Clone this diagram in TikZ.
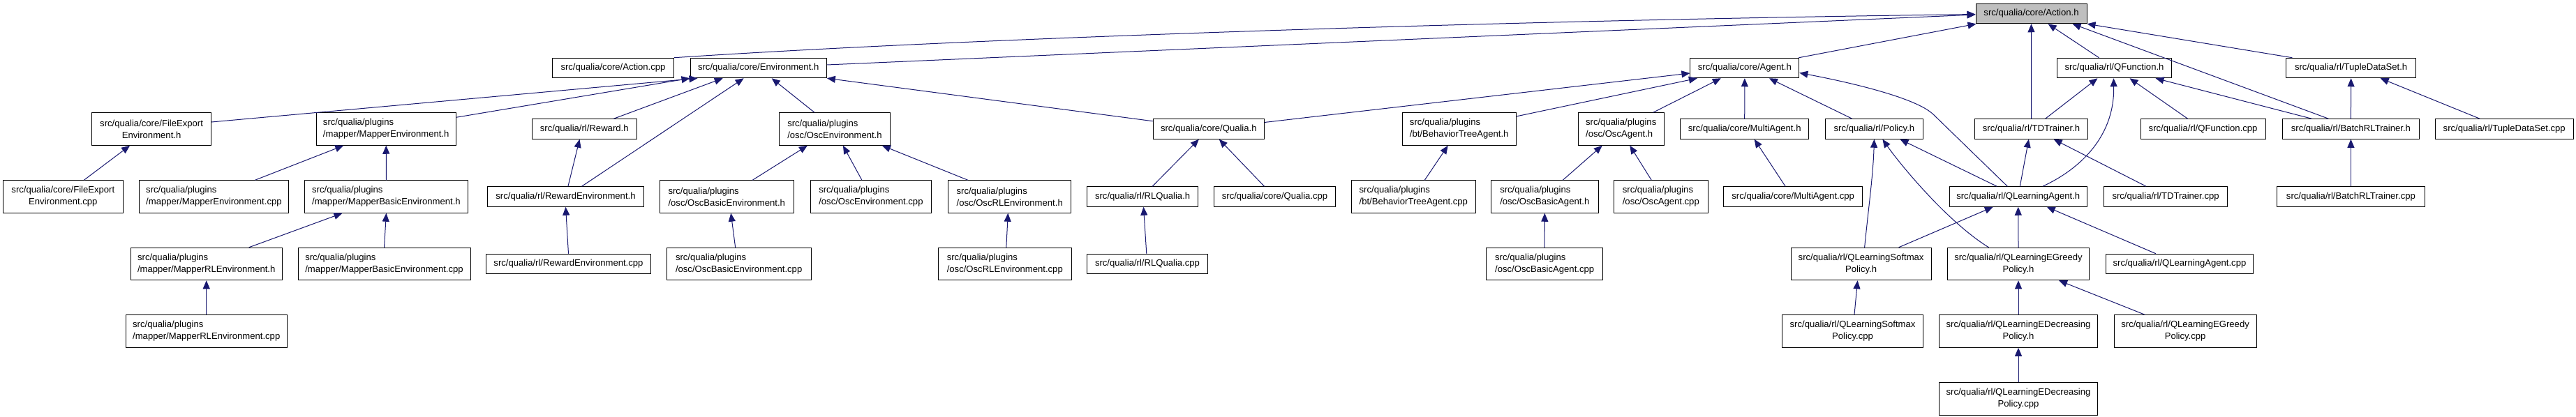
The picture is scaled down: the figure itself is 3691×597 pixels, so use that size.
\documentclass[tikz,border=0pt]{standalone}
\usepackage{fontspec}
\setmainfont{Liberation Sans}
\usetikzlibrary{arrows.meta}
\definecolor{edgecol}{HTML}{191970}
\definecolor{rootfill}{HTML}{BFBFBF}
\newcommand\fs{\fontsize{13.1}{17}\selectfont}
\newcommand\bx[6]{\node[#1, minimum width={#4-#3}] (#2) at ({(#3+#4)/2},#5) {#6};}
\tikzset{
  base/.style={draw=black, line width=1pt, inner sep=0pt, font=\fs, text=black, fill=white},
  sbox/.style={base, minimum height=28.5pt},
  rootbox/.style={sbox, fill=rootfill},
  dboxl/.style={base, minimum height=46.5pt, align=left},
  dboxc/.style={base, minimum height=46.5pt, align=center},
  e/.style={draw=edgecol, line width=1pt, -{Triangle[length=12pt,width=10pt]}}
}
\begin{document}
\begin{tikzpicture}[x=1pt,y=-1pt]
\fill[white] (0,0) rectangle (3691,597);
\useasboundingbox (0,0) rectangle (3691,597);
% row 1
\bx{rootbox}{actionh}{2831}{2990}{19.5}{src/qualia/core/Action.h}
% row 2
\bx{sbox}{actioncpp}{791.7}{965.3}{97.5}{src/qualia/core/Action.cpp}
\bx{sbox}{envh}{989}{1184.4}{97.5}{src/qualia/core/Environment.h}
\bx{sbox}{agenth}{2421.9}{2577.8}{97.5}{src/qualia/core/Agent.h}
\bx{sbox}{qfunch}{2947.1}{3111.8}{97.5}{src/qualia/rl/QFunction.h}
\bx{sbox}{tupleh}{3275.9}{3461.3}{97.5}{src/qualia/rl/TupleDataSet.h}
% row 3
\bx{dboxc}{fileexph}{131.7}{302.5}{185}{src/qualia/core/FileExport\\Environment.h}
\bx{dboxl}{mapenvh}{453.1}{653.4}{185}{src/qualia/plugins\\/mapper/MapperEnvironment.h}
\bx{sbox}{rewardh}{762.5}{912}{185}{src/qualia/rl/Reward.h}
\bx{dboxl}{oscenvh}{1116.4}{1275.5}{185}{src/qualia/plugins\\/osc/OscEnvironment.h}
\bx{sbox}{qualiah}{1652.3}{1811.3}{185}{src/qualia/core/Qualia.h}
\bx{dboxl}{btagenth}{2009}{2172.4}{185}{src/qualia/plugins\\/bt/BehaviorTreeAgent.h}
\bx{dboxl}{oscagenth}{2261.4}{2384}{185}{src/qualia/plugins\\/osc/OscAgent.h}
\bx{sbox}{multiagenth}{2407.7}{2591.7}{185}{src/qualia/core/MultiAgent.h}
\bx{sbox}{policyh}{2615.4}{2755.4}{185}{src/qualia/rl/Policy.h}
\bx{sbox}{tdtrainerh}{2829.3}{2991.8}{185}{src/qualia/rl/TDTrainer.h}
\bx{sbox}{qfunccpp}{3067}{3246.2}{185}{src/qualia/rl/QFunction.cpp}
\bx{sbox}{batchh}{3270.3}{3466.5}{185}{src/qualia/rl/BatchRLTrainer.h}
\bx{sbox}{tuplecpp}{3489.4}{3687}{185}{src/qualia/rl/TupleDataSet.cpp}
% row 4
\bx{dboxc}{fileexpcpp}{4.7}{176}{282}{src/qualia/core/FileExport\\Environment.cpp}
\bx{dboxl}{mapenvcpp}{199.3}{413.6}{282}{src/qualia/plugins\\/mapper/MapperEnvironment.cpp}
\bx{dboxl}{mapbasich}{436.5}{670.4}{282}{src/qualia/plugins\\/mapper/MapperBasicEnvironment.h}
\bx{sbox}{rewardenvh}{698.8}{922.2}{282}{src/qualia/rl/RewardEnvironment.h}
\bx{dboxl}{oscbasich}{945.2}{1137.3}{282}{src/qualia/plugins\\/osc/OscBasicEnvironment.h}
\bx{dboxl}{oscenvcpp}{1161}{1334.8}{282}{src/qualia/plugins\\/osc/OscEnvironment.cpp}
\bx{dboxl}{oscrlh}{1358.5}{1534.9}{282}{src/qualia/plugins\\/osc/OscRLEnvironment.h}
\bx{sbox}{rlqualiah}{1557.8}{1716.4}{282}{src/qualia/rl/RLQualia.h}
\bx{sbox}{qualiacpp}{1739.7}{1913.4}{282}{src/qualia/core/Qualia.cpp}
\bx{dboxl}{btagentcpp}{1936.3}{2114.3}{282}{src/qualia/plugins\\/bt/BehaviorTreeAgent.cpp}
\bx{dboxl}{oscbasicagenth}{2136.4}{2290.2}{282}{src/qualia/plugins\\/osc/OscBasicAgent.h}
\bx{dboxl}{oscagentcpp}{2312.4}{2447.2}{282}{src/qualia/plugins\\/osc/OscAgent.cpp}
\bx{sbox}{multiagentcpp}{2469.9}{2668.4}{282}{src/qualia/core/MultiAgent.cpp}
\bx{sbox}{qlagenth}{2793.3}{2990.2}{282}{src/qualia/rl/QLearningAgent.h}
\bx{sbox}{tdtrainercpp}{3014.8}{3191.3}{282}{src/qualia/rl/TDTrainer.cpp}
\bx{sbox}{batchcpp}{3262.8}{3474}{282}{src/qualia/rl/BatchRLTrainer.cpp}
% row 5
\bx{dboxl}{maprlh}{187}{404.5}{378.5}{src/qualia/plugins\\/mapper/MapperRLEnvironment.h}
\bx{dboxl}{mapbasiccpp}{427}{674}{378.5}{src/qualia/plugins\\/mapper/MapperBasicEnvironment.cpp}
\bx{sbox}{rewardenvcpp}{696.5}{932.5}{378.5}{src/qualia/rl/RewardEnvironment.cpp}
\bx{dboxl}{oscbasiccpp}{955}{1162.3}{378.5}{src/qualia/plugins\\/osc/OscBasicEnvironment.cpp}
\bx{dboxl}{oscrlcpp}{1344.3}{1535.3}{378.5}{src/qualia/plugins\\/osc/OscRLEnvironment.cpp}
\bx{sbox}{rlqualiacpp}{1557.8}{1730.2}{378.5}{src/qualia/rl/RLQualia.cpp}
\bx{dboxl}{oscbasicagentcpp}{2129.7}{2296.6}{378.5}{src/qualia/plugins\\/osc/OscBasicAgent.cpp}
\bx{dboxc}{qlsoftmaxh}{2566}{2767.2}{378.5}{src/qualia/rl/QLearningSoftmax\\Policy.h}
\bx{dboxc}{qlegreedyh}{2790.6}{2993.4}{378.5}{src/qualia/rl/QLearningEGreedy\\Policy.h}
\bx{sbox}{qlagentcpp}{3017.1}{3228.8}{378.5}{src/qualia/rl/QLearningAgent.cpp}
% row 6
\bx{dboxl}{maprlcpp}{180.3}{411.2}{475}{src/qualia/plugins\\/mapper/MapperRLEnvironment.cpp}
\bx{dboxc}{qlsoftmaxcpp}{2553.7}{2755.4}{475}{src/qualia/rl/QLearningSoftmax\\Policy.cpp}
\bx{dboxc}{qledech}{2778.7}{3005.3}{475}{src/qualia/rl/QLearningEDecreasing\\Policy.h}
\bx{dboxc}{qlegreedycpp}{3029}{3233.2}{475}{src/qualia/rl/QLearningEGreedy\\Policy.cpp}
% row 7
\bx{dboxc}{qledeccpp}{2778.7}{3005.3}{572}{src/qualia/rl/QLearningEDecreasing\\Policy.cpp}
% edges to Action.h
\draw[e] (actioncpp.north east) .. controls (1350,57) and (2100,30) .. ([yshift=-1pt]actionh.west);
\draw[e] ([yshift=4.5pt]envh.east) -- ([yshift=-1.5pt]actionh.west);
\draw[e] ([xshift=-1pt]agenth.north east) -- ([xshift=1pt]actionh.south west);
\draw[e] (tdtrainerh.north) -- (actionh.south);
\draw[e] ([xshift=-22pt]qfunch.north) -- ([xshift=24pt]actionh.south);
\draw[e] ([xshift=-32pt]batchh.north) -- ([xshift=-21pt]actionh.south east);
\draw[e] ([xshift=9pt]tupleh.north west) -- (actionh.south east);
% edges to Environment.h
\draw[e] ([yshift=10pt]fileexph.east) -- ([xshift=11pt]envh.south west);
\draw[e] ([yshift=-7pt]mapenvh.north east) -- (envh.south west);
\draw[e] ([xshift=42pt]rewardh.north) -- ([xshift=-51pt]envh.south);
\draw[e] ([xshift=23pt]rewardenvh.north) -- ([xshift=-21pt]envh.south);
\draw[e] ([xshift=-29pt]oscenvh.north) -- ([xshift=19pt]envh.south);
\draw[e] ([yshift=-3.5pt]qualiah.north west) -- (envh.south east);
% environment family
\draw[e] ([xshift=3.4pt]rewardenvh.north) -- ([xshift=-6.75pt]rewardh.south);
\draw[e] (rewardenvcpp.north) -- (rewardenvh.south);
\draw[e] ([xshift=30pt]fileexpcpp.north) -- ([xshift=-31pt]fileexph.south);
\draw[e] ([xshift=59pt]mapenvcpp.north) -- ([xshift=-61pt]mapenvh.south);
\draw[e] (mapbasich.north) -- (mapenvh.south);
\draw[e] ([xshift=61pt]maprlh.north) -- ([xshift=-63pt]mapbasich.south);
\draw[e] (mapbasiccpp.north) -- (mapbasich.south);
\draw[e] (maprlcpp.north) -- (maprlh.south);
\draw[e] ([xshift=37pt]oscbasich.north) -- ([xshift=-39pt]oscenvh.south);
\draw[e] ([xshift=-13pt]oscenvcpp.north) -- ([xshift=12pt]oscenvh.south);
\draw[e] ([xshift=-60pt]oscrlh.north) -- ([xshift=68pt]oscenvh.south);
\draw[e] ([xshift=-5pt]oscbasiccpp.north) -- ([xshift=6pt]oscbasich.south);
\draw[e] ([xshift=2pt]oscrlcpp.north) -- ([xshift=-2.4pt]oscrlh.south);
\draw[e] ([xshift=14pt]rlqualiah.north) -- ([xshift=-14pt]qualiah.south);
\draw[e] ([xshift=-15pt]qualiacpp.north) -- ([xshift=15pt]qualiah.south);
\draw[e] ([xshift=-1.2pt]rlqualiacpp.north) -- ([xshift=1.4pt]rlqualiah.south);
% edges to Agent.h
\draw[e] ([yshift=9.5pt]qualiah.east) -- ([yshift=-7.5pt]agenth.west);
\draw[e] ([yshift=-5.6pt]btagenth.north east) -- ([xshift=-68pt]agenth.south);
\draw[e] ([xshift=46pt]oscagenth.north) -- ([xshift=-34pt]agenth.south);
\draw[e] (multiagenth.north) -- (agenth.south);
\draw[e] ([xshift=-31.6pt]policyh.north) -- ([xshift=35pt]agenth.south);
\draw[e] ([xshift=-15.4pt]qlagenth.north) -- (2770,164) .. controls (2745,140) and (2650,118) .. ([yshift=-7pt]agenth.east);
% agent family
\draw[e] ([xshift=16pt]btagentcpp.north) -- ([xshift=-16pt]btagenth.south);
\draw[e] ([xshift=26pt]oscbasicagenth.north) -- ([xshift=-27pt]oscagenth.south);
\draw[e] ([xshift=-13.6pt]oscagentcpp.north) -- ([xshift=12.6pt]oscagenth.south);
\draw[e] (oscbasicagentcpp.north) -- (oscbasicagenth.south);
\draw[e] ([xshift=-11pt]multiagentcpp.north) -- ([xshift=14pt]multiagenth.south);
% policy / rl
\draw[e] ([xshift=5pt]qlsoftmaxh.north) .. controls (2677,300) and (2684,250) .. (policyh.south);
\draw[e] ([xshift=-42.5pt]qlegreedyh.north) .. controls (2790,318) and (2722,235) .. ([xshift=12pt]policyh.south);
\draw[e] ([xshift=-30.5pt]qlagenth.north) -- ([xshift=37pt]policyh.south);
\draw[e] ([xshift=2.5pt]qlagenth.north) -- ([xshift=-3.7pt]tdtrainerh.south);
\draw[e] ([xshift=-28pt]tdtrainercpp.north) -- ([xshift=32pt]tdtrainerh.south);
\draw[e] ([xshift=20pt]tdtrainerh.north) -- ([xshift=-24pt]qfunch.south);
\draw[e] ([xshift=35pt]qlagenth.north) .. controls (2975,245) and (3030,200) .. ([xshift=-1pt]qfunch.south);
\draw[e] ([xshift=-22pt]qfunccpp.north) -- ([xshift=22pt]qfunch.south);
\draw[e] ([xshift=-56pt]batchh.north) -- ([xshift=59pt]qfunch.south);
\draw[e] (batchh.north) -- (tupleh.south);
\draw[e] ([xshift=-35pt]tuplecpp.north) -- ([xshift=42pt]tupleh.south);
\draw[e] (batchcpp.north) -- (batchh.south);
\draw[e] ([xshift=54pt]qlsoftmaxh.north) -- ([xshift=-36pt]qlagenth.south);
\draw[e] (qlegreedyh.north) -- (qlagenth.south);
\draw[e] ([xshift=-34pt]qlagentcpp.north) -- ([xshift=41pt]qlagenth.south);
\draw[e] (qledech.north) -- (qlegreedyh.south);
\draw[e] ([xshift=-58pt]qlegreedycpp.north) -- ([xshift=58pt]qlegreedyh.south);
\draw[e] (qledeccpp.north) -- (qledech.south);
\draw[e] ([xshift=2.4pt]qlsoftmaxcpp.north) -- ([xshift=-5pt]qlsoftmaxh.south);
\end{tikzpicture}
\end{document}
